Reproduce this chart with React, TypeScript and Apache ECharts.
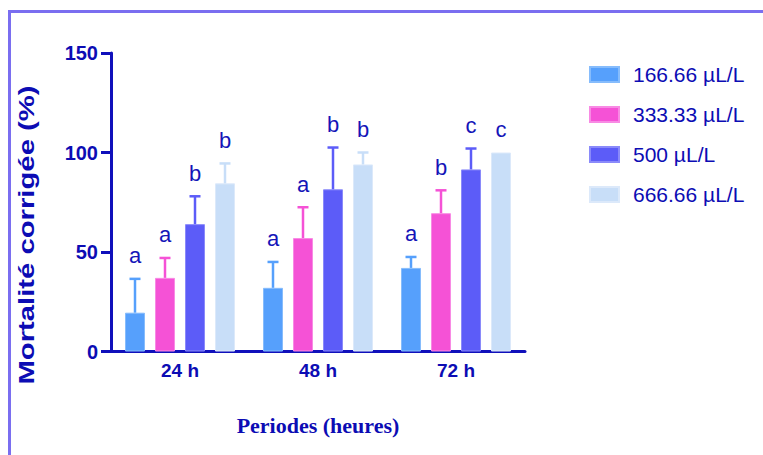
import React, { useEffect, useRef } from "react";
import * as echarts from "echarts";

const categories = ["24 h", "48 h", "72 h"];
const seriesNames = ["166.66 µL/L", "333.33 µL/L", "500 µL/L", "666.66 µL/L"];
const means1 = [19.5, 32, 42];
const means2 = [37, 57, 69.5];
const means3 = [64, 81.5, 91.5];
const means4 = [84.5, 94, 100];
const sd1 = [17, 13, 5.5];
const sd2 = [10, 15.5, 11.5];
const sd3 = [14, 21, 10.5];
const sd4 = [10, 6, 0];
const letters1 = ["a", "a", "a"];
const letters2 = ["a", "a", "b"];
const letters3 = ["b", "b", "c"];
const letters4 = ["b", "b", "c"];
const yTicks = { min: 0, max: 150, interval: 50 };

const colors = ["#56a0fc", "#f552d6", "#5c5cf8", "#c8def8"];
const borders = ["#86bcfc", "#f88ae4", "#8a8afa", "#dce9fa"];
const AXIS = "#1010bb";
const TEXT = "#0c0cb4";

export default function App() {
  const ref = useRef<HTMLDivElement>(null);
  useEffect(() => {
    if (!ref.current) return;
    const chart = echarts.init(ref.current, null, { renderer: "svg" });
    const means = [means1, means2, means3, means4];
    const sds = [sd1, sd2, sd3, sd4];
    const letters = [letters1, letters2, letters3, letters4];

    const barSeries = means.map((m, s) => ({
      name: seriesNames[s],
      type: "bar",
      data: m,
      barWidth: 20,
      barGap: "50%",
      itemStyle: { color: colors[s], borderColor: borders[s], borderWidth: 1 },
      z: 2,
    }));

    const errSeries = means.map((m, s) => ({
      type: "custom",
      coordinateSystem: "cartesian2d",
      z: 3,
      silent: true,
      data: m.map((v, i) => [i, v, sds[s][i]]),
      encode: { x: 0, y: 1 },
      renderItem: (params: any, api: any) => {
        const idx = api.value(0);
        const mean = api.value(1);
        const sd = api.value(2);
        const base = api.coord([idx, mean]);
        const top = api.coord([idx, mean + sd]);
        const x = base[0] + (s - 1.5) * 30;
        const children: any[] = [];
        const st = { stroke: colors[s], lineWidth: 2.5 };
        if (sd > 0) {
          children.push({
            type: "line",
            shape: { x1: x, y1: base[1], x2: x, y2: top[1] },
            style: st,
          });
          children.push({
            type: "line",
            shape: { x1: x - 5.5, y1: top[1], x2: x + 5.5, y2: top[1] },
            style: st,
          });
        }
        children.push({
          type: "text",
          x: x,
          y: top[1] - 12,
          style: {
            text: letters[s][params.dataIndex],
            fill: "#1515b8",
            fontSize: 22,
            fontFamily: "Liberation Sans, Arial, sans-serif",
            align: "center",
            verticalAlign: "bottom",
          },
        });
        return { type: "group", children };
      },
    }));

    chart.setOption({
      animation: false,
      grid: { left: 111, top: 53, width: 414, height: 298.5 },
      legend: {
        data: seriesNames,
        orient: "vertical",
        left: 584,
        top: 59,
        icon: "rect",
        itemWidth: 29,
        itemHeight: 15,
        itemGap: 19,
        textStyle: {
          color: TEXT,
          fontSize: 21,
          lineHeight: 21,
          fontFamily: "Liberation Sans, Arial, sans-serif",
          padding: [0, 0, 0, 9],
        },
      },
      xAxis: {
        type: "category",
        data: categories,
        axisLine: { lineStyle: { color: AXIS, width: 3 } },
        axisTick: { alignWithLabel: true, length: 10, lineStyle: { color: AXIS, width: 3 } },
        axisLabel: {
          color: TEXT,
          fontSize: 19,
          fontWeight: "bold",
          fontFamily: "Liberation Sans, Arial, sans-serif",
          margin: 9,
        },
      },
      yAxis: {
        type: "value",
        min: yTicks.min,
        max: yTicks.max,
        interval: yTicks.interval,
        splitLine: { show: false },
        axisLine: { show: true, lineStyle: { color: AXIS, width: 3 } },
        axisTick: { show: true, length: 10, lineStyle: { color: AXIS, width: 3 } },
        axisLabel: {
          color: TEXT,
          fontSize: 20,
          fontWeight: "bold",
          fontFamily: "Liberation Sans, Arial, sans-serif",
          margin: 13,
        },
      },
      graphic: [
        {
          type: "rect",
          shape: { x: 9.5, y: 11.5, width: 820, height: 520 },
          style: { fill: "none", stroke: "#7a6ef0", lineWidth: 3 },
          silent: true,
        },
        {
          type: "text",
          x: 26,
          y: 235,
          rotation: Math.PI / 2,
          scaleX: 1.33,
          style: {
            text: "Mortalité corrigée (%)",
            fill: TEXT,
            fontSize: 22,
            fontWeight: "bold",
            fontFamily: "Liberation Sans, Arial, sans-serif",
            align: "center",
            verticalAlign: "middle",
          },
        },
        {
          type: "text",
          x: 318,
          y: 425,
          style: {
            text: "Periodes (heures)",
            fill: TEXT,
            fontSize: 22,
            fontWeight: "bold",
            fontFamily: "Liberation Serif, Times New Roman, serif",
            align: "center",
            verticalAlign: "middle",
          },
        },
      ],
      series: [...barSeries, ...errSeries],
    });
    return () => chart.dispose();
  }, []);
  return (
    <div
      ref={ref}
      style={{ position: "fixed", left: 0, top: 0, width: 763, height: 455, background: "#fff" }}
    />
  );
}
